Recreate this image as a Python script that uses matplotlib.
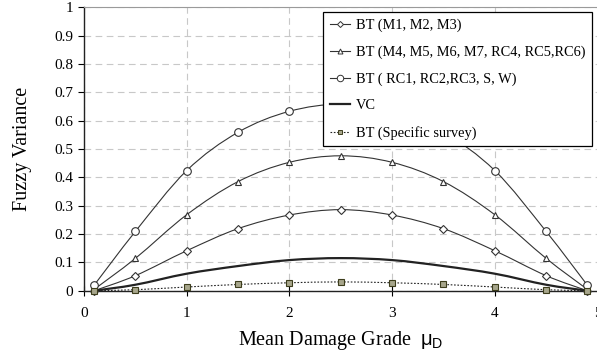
import matplotlib
matplotlib.use("Agg")
import numpy as np
import matplotlib.pyplot as plt
from matplotlib.path import Path
from matplotlib.patches import PathPatch
from matplotlib.lines import Line2D

plt.rcParams["font.family"] = ["Liberation Serif", "DejaVu Serif"]
plt.rcParams["mathtext.fontset"] = "custom"
plt.rcParams["mathtext.rm"] = "Liberation Sans"

# mean damage grade sample points
mu_d = [0.1, 0.5, 1.0, 1.5, 2.0, 2.5, 3.0, 3.5, 4.0, 4.5, 4.9]

bt_m123 = [0.0, 0.053, 0.141, 0.219, 0.267, 0.286, 0.267, 0.219, 0.141, 0.053, 0.0]
bt_m4567_rc456 = [0.005, 0.114, 0.268, 0.385, 0.453, 0.476, 0.453, 0.385, 0.268, 0.114, 0.005]
bt_rc123_s_w = [0.02, 0.209, 0.424, 0.559, 0.633, 0.658, 0.633, 0.559, 0.424, 0.209, 0.02]
vc = [0.0, 0.021, 0.060, 0.087, 0.108, 0.115, 0.108, 0.087, 0.060, 0.021, 0.0]
bt_survey = [0.0, 0.0035, 0.013, 0.022, 0.028, 0.031, 0.028, 0.022, 0.013, 0.0035, 0.0]

labels = [
    "BT (M1, M2, M3)",
    "BT (M4, M5, M6, M7, RC4, RC5,RC6)",
    "BT ( RC1, RC2,RC3, S, W)",
    "VC",
    "BT (Specific survey)",
]

LINE = "#333333"


def smooth_path(x, y):
    # cubic bezier through the points, spreadsheet-style smoothing
    x = np.asarray(x, float)
    y = np.asarray(y, float)
    n = len(x)
    verts = [(x[0], y[0])]
    codes = [Path.MOVETO]
    for i in range(n - 1):
        i0 = max(i - 1, 0)
        i3 = min(i + 2, n - 1)
        c1 = (x[i] + (x[i + 1] - x[i0]) / 6, y[i] + (y[i + 1] - y[i0]) / 6)
        c2 = (x[i + 1] - (x[i3] - x[i]) / 6, y[i + 1] - (y[i3] - y[i]) / 6)
        verts += [c1, c2, (x[i + 1], y[i + 1])]
        codes += [Path.CURVE4] * 3
    return Path(verts, codes)


fig = plt.figure(figsize=(5.97, 3.58), dpi=100)
ax = fig.add_axes([84 / 597, 1 - 290.7 / 358, 513.5 / 597, 283.4 / 358])

styles = [
    dict(y=bt_m123, marker="D", ms=3.6, mfc="white", mec=LINE, lw=0.8, ls="-", color=LINE, z=3),
    dict(y=bt_m4567_rc456, marker="^", ms=4.2, mfc="white", mec=LINE, lw=0.8, ls="-", color=LINE, z=3),
    dict(y=bt_rc123_s_w, marker="o", ms=5.5, mfc="white", mec=LINE, lw=0.8, ls="-", color=LINE, z=3),
    dict(y=vc, marker=None, ms=0, mfc="none", mec="none", lw=1.6, ls="-", color="#222222", z=4),
    dict(y=bt_survey, marker="s", ms=4.2, mfc="#a7a68c", mec="#3d3d1c", lw=0.8,
         ls=(0, (1.5, 1.5)), color="#222222", z=5),
]

handles = []
for st, lab in zip(styles, labels):
    ax.add_patch(PathPatch(smooth_path(mu_d, st["y"]), fill=False, edgecolor=st["color"],
                           lw=st["lw"], linestyle=st["ls"], zorder=st["z"]))
    if st["marker"]:
        ax.plot(mu_d, st["y"], linestyle="none", marker=st["marker"], ms=st["ms"],
                mfc=st["mfc"], mec=st["mec"], mew=0.8, zorder=st["z"] + 0.5, clip_on=False)
    handles.append(Line2D([], [], color=st["color"], lw=st["lw"], linestyle=st["ls"],
                          marker=st["marker"], ms=st["ms"] * 0.85, mfc=st["mfc"],
                          mec=st["mec"], mew=0.7, label=lab))

ax.set_xlim(0, 5)
ax.set_ylim(0, 1)
ax.set_xticks(np.arange(0, 6, 1))
ax.set_yticks(np.round(np.arange(0, 1.01, 0.1), 1))
ax.set_yticklabels(["0"] + [f"{v:.1f}" for v in np.arange(0.1, 0.95, 0.1)] + ["1"])
ax.grid(True, color="#c8c8c8", linestyle=(0, (6, 4)), linewidth=0.8)
ax.set_axisbelow(True)

for side in ["left", "bottom"]:
    ax.spines[side].set_color("#222222")
    ax.spines[side].set_linewidth(1.0)
ax.spines["top"].set_color("#9a9a9a")
ax.spines["top"].set_linewidth(0.8)
ax.spines["right"].set_visible(False)

ax.tick_params(axis="y", direction="out", length=4, width=0.8, labelsize=11, pad=4)
ax.tick_params(axis="x", direction="inout", length=7, width=0.8, labelsize=11, pad=8)

ax.set_ylabel("Fuzzy Variance", fontsize=14.5, labelpad=16)
ax.set_xlabel(r"Mean Damage Grade  $\mathrm{\mu_D}$", fontsize=14.5, labelpad=7)

leg = fig.legend(handles=handles, loc="upper left", bbox_to_anchor=(323 / 597, 1 - 12 / 358),
                 fontsize=10.4, frameon=True, fancybox=False, borderpad=0.45,
                 labelspacing=0.93, handlelength=1.4, handletextpad=0.45, borderaxespad=0)
leg.get_frame().set_edgecolor("black")
leg.get_frame().set_linewidth(0.9)
leg.get_frame().set_alpha(1)
leg.set_zorder(10)

fig.savefig("out.png", dpi=100)
